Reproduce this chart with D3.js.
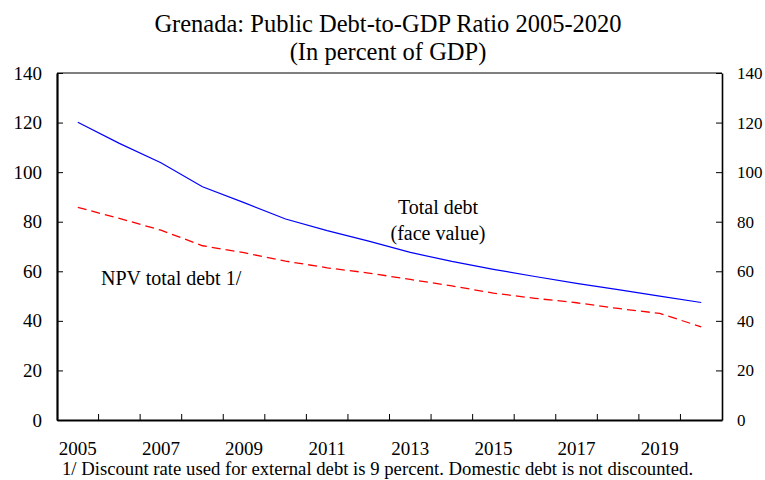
<!DOCTYPE html>
<html>
<head>
<meta charset="utf-8">
<script src="https://cdn.jsdelivr.net/npm/d3@7/dist/d3.min.js"></script>
<style>
  body { margin: 0; background: #fff; }
  svg text { font-family: "Liberation Serif", "Times New Roman", serif; fill: #000; }
</style>
</head>
<body>
<div id="chart"></div>
<script>
// data
var years = d3.range(2005, 2021);
var yearLabels = [2005, 2007, 2009, 2011, 2013, 2015, 2017, 2019];
var totalDebt = [120.1, 111.6, 103.8, 94.1, 87.7, 81.1, 76.4, 72.2, 67.6, 64.0, 60.8, 57.9, 55.1, 52.6, 50.0, 47.4];
var npvDebt = [85.8, 81.3, 76.6, 70.3, 67.5, 64.1, 61.4, 59.3, 56.7, 54.1, 51.2, 49.1, 47.3, 45.0, 43.0, 37.6];
var yTicks = [0, 20, 40, 60, 80, 100, 120, 140];

var W = 765, H = 480;
var plotL = 57, plotR = 722, plotT = 73, plotB = 420;

var svg = d3.select("#chart").append("svg")
    .attr("width", W)
    .attr("height", H);

// scales
var x = d3.scaleBand().domain(years).range([plotL, plotR]);
var y = d3.scaleLinear().domain([0, 140]).range([plotB, plotT]);
var cx = function(d) { return x(d) + x.bandwidth() / 2; };

// title
svg.append("text")
    .attr("x", 388).attr("y", 32)
    .attr("text-anchor", "middle")
    .style("font-size", "24.5px")
    .text("Grenada: Public Debt-to-GDP Ratio 2005-2020");
svg.append("text")
    .attr("x", 388).attr("y", 60)
    .attr("text-anchor", "middle")
    .style("font-size", "24.5px")
    .text("(In percent of GDP)");

// frame top line
svg.append("line")
    .attr("x1", plotL).attr("x2", plotR)
    .attr("y1", plotT).attr("y2", plotT)
    .attr("stroke", "#000").attr("stroke-width", 1);

// left axis
var yl = svg.append("g")
    .attr("transform", "translate(" + plotL + ",0)")
    .call(d3.axisLeft(y).tickValues(yTicks).tickSize(-6).tickPadding(15).tickSizeOuter(0));
yl.select(".domain").attr("stroke-width", 2.2);
yl.selectAll("text").style("font-size", "19px").style("font-family", "Liberation Serif");

// right axis
var yr = svg.append("g")
    .attr("transform", "translate(" + plotR + ",0)")
    .call(d3.axisRight(y).tickValues(yTicks).tickSize(-6).tickPadding(15).tickSizeOuter(0));
yr.select(".domain").attr("stroke-width", 1.6);
yr.selectAll("text").style("font-size", "17px").style("font-family", "Liberation Serif");

// bottom axis: labels centred in each year, tick marks between years
var xa = svg.append("g")
    .attr("transform", "translate(0," + plotB + ")")
    .call(d3.axisBottom(x).tickValues(yearLabels).tickSize(0).tickPadding(22).tickSizeOuter(0));
xa.select(".domain").attr("stroke-width", 2.2);
xa.selectAll("text").style("font-size", "19px").style("font-family", "Liberation Serif");

svg.append("g").selectAll("line")
    .data(years.slice(1))
    .enter().append("line")
    .attr("x1", function(d) { return x(d); })
    .attr("x2", function(d) { return x(d); })
    .attr("y1", plotB).attr("y2", plotB - 6)
    .attr("stroke", "#000");

// lines
var line = d3.line()
    .x(function(d, i) { return cx(years[i]); })
    .y(function(d) { return y(d); });

svg.append("path")
    .datum(totalDebt)
    .attr("d", line)
    .attr("fill", "none")
    .attr("stroke", "#0000ff")
    .attr("stroke-width", 1.2);

svg.append("path")
    .datum(npvDebt)
    .attr("d", line)
    .attr("fill", "none")
    .attr("stroke", "#ff0000")
    .attr("stroke-width", 1.3)
    .attr("stroke-dasharray", "9,5");

// annotations
svg.append("text")
    .attr("x", 438).attr("y", 214)
    .attr("text-anchor", "middle")
    .style("font-size", "20px")
    .text("Total debt");
svg.append("text")
    .attr("x", 438).attr("y", 240)
    .attr("text-anchor", "middle")
    .style("font-size", "20px")
    .text("(face value)");
svg.append("text")
    .attr("x", 101).attr("y", 285)
    .style("font-size", "20px")
    .text("NPV total debt 1/");

// footnote
svg.append("text")
    .attr("x", 62).attr("y", 475)
    .style("font-size", "18.7px")
    .text("1/ Discount rate used for external debt is 9 percent. Domestic debt is not discounted.");
</script>
</body>
</html>
